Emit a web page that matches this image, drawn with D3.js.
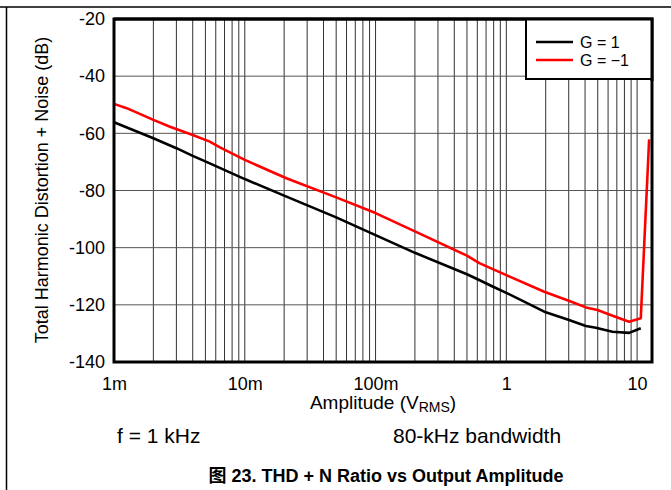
<!DOCTYPE html>
<meta charset="utf-8">
<head>
<title>THD+N vs Amplitude</title>
<script src="https://d3js.org/d3.v7.min.js"></script>
<style>
  body { margin: 0; background: #fff; }
  text { font-family: "Liberation Sans", Arial, sans-serif; fill: #000; }
</style>
</head>
<body>
<svg id="chart" width="671" height="490"></svg>
<script>
// data
var ampG1 = [0.001, 0.002, 0.003, 0.004, 0.0054, 0.01, 0.02, 0.05, 0.1, 0.2, 0.5, 0.62, 0.785, 1.0, 1.95, 2.94, 4.06, 4.84, 6.48, 8.69, 10.67]
var thdG1 = [-56.1, -61.7, -65.2, -67.9, -70.5, -76.0, -81.8, -89.4, -95.6, -101.8, -109.3, -111.3, -113.6, -115.8, -122.4, -125.1, -127.4, -128.0, -129.4, -129.8, -128.2]

var ampGm1 = [0.001, 0.00125, 0.002, 0.00268, 0.004, 0.0054, 0.0064, 0.01, 0.0208, 0.05, 0.1, 0.2, 0.5, 0.622, 1.0, 1.95, 3.0, 4.06, 4.98, 6.5, 8.69, 10.67, 12.36]
var thdGm1 = [-49.7, -51.2, -55.3, -57.7, -60.6, -62.9, -64.8, -69.3, -75.7, -82.4, -87.9, -94.3, -102.8, -105.4, -109.6, -115.4, -118.6, -120.9, -121.8, -123.8, -125.9, -124.7, -62.1]

var xTickVals = [0.001, 0.01, 0.1, 1, 10]
var xTickLabels = ["1m", "10m", "100m", "1", "10"]
var yTickVals = [-140, -120, -100, -80, -60, -40, -20]

var seriesNames = ["G = 1", "G = \u22121"]
var seriesColors = ["#000000", "#ff0000"]

var svg = d3.select("#chart")

// outer frame lines
svg.append("line").attr("x1", 0).attr("x2", 671).attr("y1", 7).attr("y2", 7)
   .attr("stroke", "#000").attr("stroke-width", 1.5)
svg.append("line").attr("x1", 6.5).attr("x2", 6.5).attr("y1", 7).attr("y2", 490)
   .attr("stroke", "#000").attr("stroke-width", 1.5)

var pL = 114, pR = 652, pT = 19, pB = 362

var x = d3.scaleLog().domain([0.001, 13]).range([pL, pR])
var y = d3.scaleLinear().domain([-140, -20]).range([pB, pT])

// grid
var grid = svg.append("g")
grid.selectAll(".vg")
    .data(x.ticks().filter(function(d){ return d > 0.001 && d < 13 }))
    .enter().append("line")
    .attr("x1", function(d){ return x(d) }).attr("x2", function(d){ return x(d) })
    .attr("y1", pT).attr("y2", pB)
    .attr("stroke", "#333").attr("stroke-width", 1)
grid.selectAll(".hg")
    .data(yTickVals.filter(function(d){ return d > -140 && d < -20 }))
    .enter().append("line")
    .attr("x1", pL).attr("x2", pR)
    .attr("y1", function(d){ return y(d) }).attr("y2", function(d){ return y(d) })
    .attr("stroke", "#555").attr("stroke-width", 1)

// axes (labels only)
var xAxis = svg.append("g")
    .attr("transform", "translate(0," + pB + ")")
    .call(d3.axisBottom(x).tickValues(xTickVals)
        .tickFormat(function(d, i){ return xTickLabels[i] }).tickSize(0).tickPadding(15))
xAxis.select(".domain").remove()
xAxis.selectAll("text").style("font-size", "18px")

var yAxis = svg.append("g")
    .attr("transform", "translate(" + pL + ",0)")
    .call(d3.axisLeft(y).tickValues(yTickVals).tickSize(0).tickPadding(9)
        .tickFormat(function(d){ return String(d) }))
yAxis.select(".domain").remove()
yAxis.selectAll("text").style("font-size", "18px")

// lines
var line = d3.line().x(function(d){ return x(d[0]) }).y(function(d){ return y(d[1]) })
svg.append("path")
    .datum(d3.zip(ampG1, thdG1))
    .attr("d", line).attr("fill", "none")
    .attr("stroke", seriesColors[0]).attr("stroke-width", 2.6).attr("stroke-linejoin", "round")
svg.append("path")
    .datum(d3.zip(ampGm1, thdGm1))
    .attr("d", line).attr("fill", "none")
    .attr("stroke", seriesColors[1]).attr("stroke-width", 2.6).attr("stroke-linejoin", "round")

// plot border
svg.append("rect").attr("x", pL).attr("y", pT)
    .attr("width", pR - pL).attr("height", pB - pT)
    .attr("fill", "none").attr("stroke", "#000").attr("stroke-width", 3)

// legend
var lg = svg.append("g")
lg.append("rect").attr("x", 526).attr("y", pT).attr("width", pR - 526).attr("height", 60)
    .attr("fill", "#fff").attr("stroke", "#000").attr("stroke-width", 2)
seriesNames.forEach(function(name, i){
    var ly = 42 + i * 18
    lg.append("line").attr("x1", 536).attr("x2", 573).attr("y1", ly).attr("y2", ly)
      .attr("stroke", seriesColors[i]).attr("stroke-width", 2.5)
    lg.append("text").attr("x", 580).attr("y", ly + 6).style("font-size", "16px").text(name)
})
// redraw border edges the legend covered
svg.append("path")
    .attr("d", "M" + pL + "," + pT + "H" + pR + "V" + (pT + 62))
    .attr("fill", "none").attr("stroke", "#000").attr("stroke-width", 3)

// titles
svg.append("text")
    .attr("transform", "translate(48,190) rotate(-90)")
    .attr("text-anchor", "middle").style("font-size", "18px")
    .text("Total Harmonic Distortion + Noise (dB)")

var xt = svg.append("text").attr("x", 383).attr("y", 409)
    .attr("text-anchor", "middle").style("font-size", "19px")
xt.append("tspan").text("Amplitude (V")
xt.append("tspan").attr("dy", 3).style("font-size", "14px").text("RMS")
xt.append("tspan").attr("dy", -3).text(")")

svg.append("text").attr("x", 117).attr("y", 443).style("font-size", "21px").text("f = 1 kHz")
svg.append("text").attr("x", 393).attr("y", 443).style("font-size", "21px").text("80-kHz bandwidth")

svg.append("text").attr("x", 386).attr("y", 482)
    .attr("text-anchor", "middle").style("font-size", "18px").style("font-weight", "bold")
    .style("font-family", "'Liberation Sans', 'Noto Sans CJK SC', sans-serif")
    .text("图 23. THD + N Ratio vs Output Amplitude")
</script>
</body>
